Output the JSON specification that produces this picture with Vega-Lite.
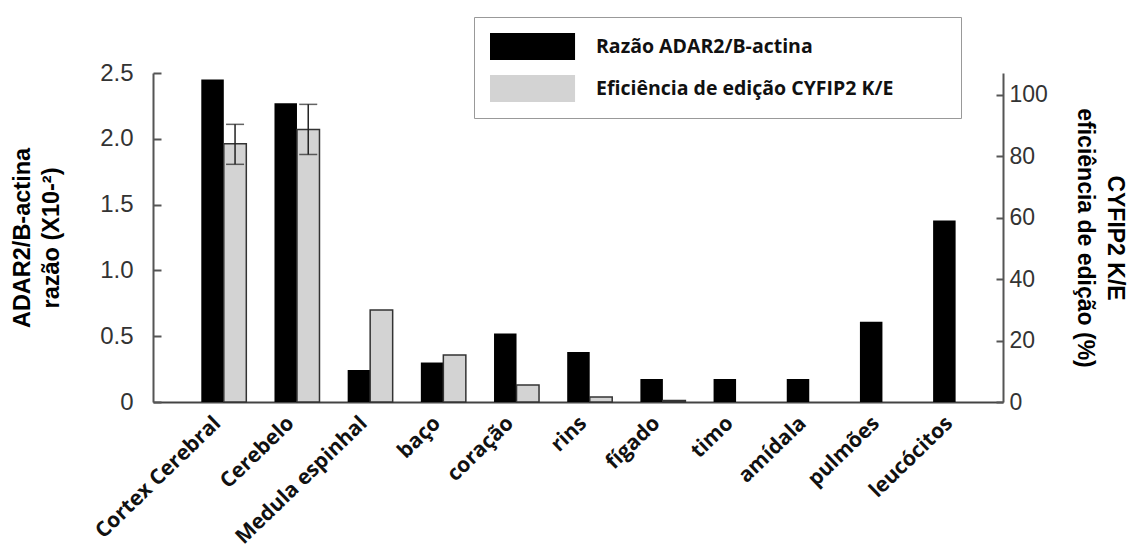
{
  "$schema": "https://vega.github.io/schema/vega-lite/v6.json",
  "width": 850,
  "height": 329,
  "autosize": "none",
  "padding": {"left": 153, "top": 73, "right": 129, "bottom": 148},
  "background": "white",
  "config": {"view": {"stroke": null}, "font": "Liberation Sans"},
  "data": {
    "values": [
      {"tecido": "Cortex Cerebral", "ratio": 2.45, "eff": 84, "lo": 77.3, "hi": 90.3},
      {"tecido": "Cerebelo", "ratio": 2.27, "eff": 88.6, "lo": 80.5, "hi": 96.8},
      {"tecido": "Medula espinhal", "ratio": 0.243, "eff": 29.9, "lo": null, "hi": null},
      {"tecido": "baço", "ratio": 0.3, "eff": 15.3, "lo": null, "hi": null},
      {"tecido": "coração", "ratio": 0.52, "eff": 5.5, "lo": null, "hi": null},
      {"tecido": "rins", "ratio": 0.38, "eff": 1.6, "lo": null, "hi": null},
      {"tecido": "fígado", "ratio": 0.175, "eff": 0.5, "lo": null, "hi": null},
      {"tecido": "timo", "ratio": 0.175, "eff": null, "lo": null, "hi": null},
      {"tecido": "amídala", "ratio": 0.175, "eff": null, "lo": null, "hi": null},
      {"tecido": "pulmões", "ratio": 0.61, "eff": null, "lo": null, "hi": null},
      {"tecido": "leucócitos", "ratio": 1.38, "eff": null, "lo": null, "hi": null}
    ]
  },
  "encoding": {
    "x": {
      "field": "tecido",
      "type": "nominal",
      "sort": null,
      "scale": {"paddingInner": 0.385, "paddingOuter": 0.5, "align": 0.66},
      "axis": {
        "title": null,
        "labelAngle": -44,
        "labelAlign": "right",
        "labelBaseline": "middle",
        "labelFont": "Open Sans",
        "labelFontWeight": "bold",
        "labelFontSize": 21,
        "labelColor": "#111",
        "labelPadding": 18,
        "labelOffset": -6,
        "labelLimit": 0,
        "ticks": false,
        "domainColor": "#444",
        "domainWidth": 2
      }
    }
  },
  "layer": [
    {
      "mark": {"type": "bar"},
      "encoding": {
        "y": {
          "field": "ratio",
          "type": "quantitative",
          "scale": {"domain": [0, 2.5], "nice": false},
          "axis": {
            "title": ["ADAR2/B-actina", "razão (X10-²)"],
            "titleFont": "Liberation Sans",
            "titleFontSize": 23.5,
            "titleFontWeight": "bold",
            "titleColor": "#000",
            "titleLineHeight": 29,
            "titlePadding": 36,
            "values": [0, 0.5, 1, 1.5, 2, 2.5],
            "labelExpr": "datum.value == 0 ? '0' : format(datum.value, '.1f')",
            "labelFontSize": 24,
            "labelColor": "#333",
            "labelPadding": 28,
            "tickSize": -8,
            "tickColor": "#555",
            "tickWidth": 2,
            "domainColor": "#555",
            "domainWidth": 2,
            "grid": false
          }
        },
        "xOffset": {
          "datum": "Razão ADAR2/B-actina",
          "scale": {"domain": ["Razão ADAR2/B-actina", "Eficiência de edição CYFIP2 K/E"], "paddingInner": 0, "paddingOuter": 0}
        },
        "color": {
          "datum": "Razão ADAR2/B-actina",
          "scale": {"domain": ["Razão ADAR2/B-actina", "Eficiência de edição CYFIP2 K/E"], "range": ["#000000", "#d3d3d3"]},
          "legend": {
            "title": "\u00a0",
            "titleOrient": "right",
            "titleFontSize": 2,
            "titlePadding": 52,
            "orient": "none",
            "legendX": 321,
            "legendY": -56,
            "direction": "vertical",
            "symbolType": "M-1,-1H5.3V1H-1Z",
            "symbolSize": 729,
            "symbolStrokeWidth": 0,
            "symbolOpacity": 1,
            "labelFont": "Open Sans",
            "labelFontWeight": "bold",
            "labelFontSize": 19.5,
            "labelColor": "#111",
            "labelOffset": 79,
            "labelLimit": 0,
            "rowPadding": 15,
            "padding": 16,
            "strokeColor": "#999",
            "fillColor": "white",
            "cornerRadius": 0
          }
        }
      }
    },
    {
      "layer": [
        {
          "mark": {"type": "bar", "stroke": "#333", "strokeWidth": 1.5},
          "encoding": {
            "y": {
              "field": "eff",
              "type": "quantitative",
              "scale": {"domain": [0, 107], "nice": false},
              "axis": {
                "orient": "right",
                "title": ["CYFIP2 K/E", "eficiência de edição (%)"],
                "titleFont": "Liberation Sans",
                "titleFontSize": 23,
                "titleFontWeight": "bold",
                "titleColor": "#000",
                "titleLineHeight": 30,
                "titlePadding": 25,
                "values": [0, 20, 40, 60, 80, 100],
                "labelFontSize": 23,
                "labelColor": "#333",
                "labelPadding": 13,
                "tickSize": -7,
                "tickColor": "#555",
                "tickWidth": 2,
                "domainColor": "#555",
                "domainWidth": 2,
                "grid": false
              }
            },
            "xOffset": {"datum": "Eficiência de edição CYFIP2 K/E"},
            "color": {"datum": "Eficiência de edição CYFIP2 K/E"}
          }
        },
        {
          "mark": {"type": "rule", "color": "#222", "strokeWidth": 1.5},
          "encoding": {
            "y": {"field": "lo", "type": "quantitative"},
            "y2": {"field": "hi"},
            "xOffset": {"datum": "Eficiência de edição CYFIP2 K/E"}
          }
        },
        {
          "mark": {"type": "tick", "color": "#222", "thickness": 1.5, "size": 18},
          "encoding": {
            "y": {"field": "hi", "type": "quantitative"},
            "xOffset": {"datum": "Eficiência de edição CYFIP2 K/E"}
          }
        },
        {
          "mark": {"type": "tick", "color": "#222", "thickness": 1.5, "size": 18},
          "encoding": {
            "y": {"field": "lo", "type": "quantitative"},
            "xOffset": {"datum": "Eficiência de edição CYFIP2 K/E"}
          }
        }
      ]
    }
  ],
  "resolve": {"scale": {"y": "independent"}}
}
